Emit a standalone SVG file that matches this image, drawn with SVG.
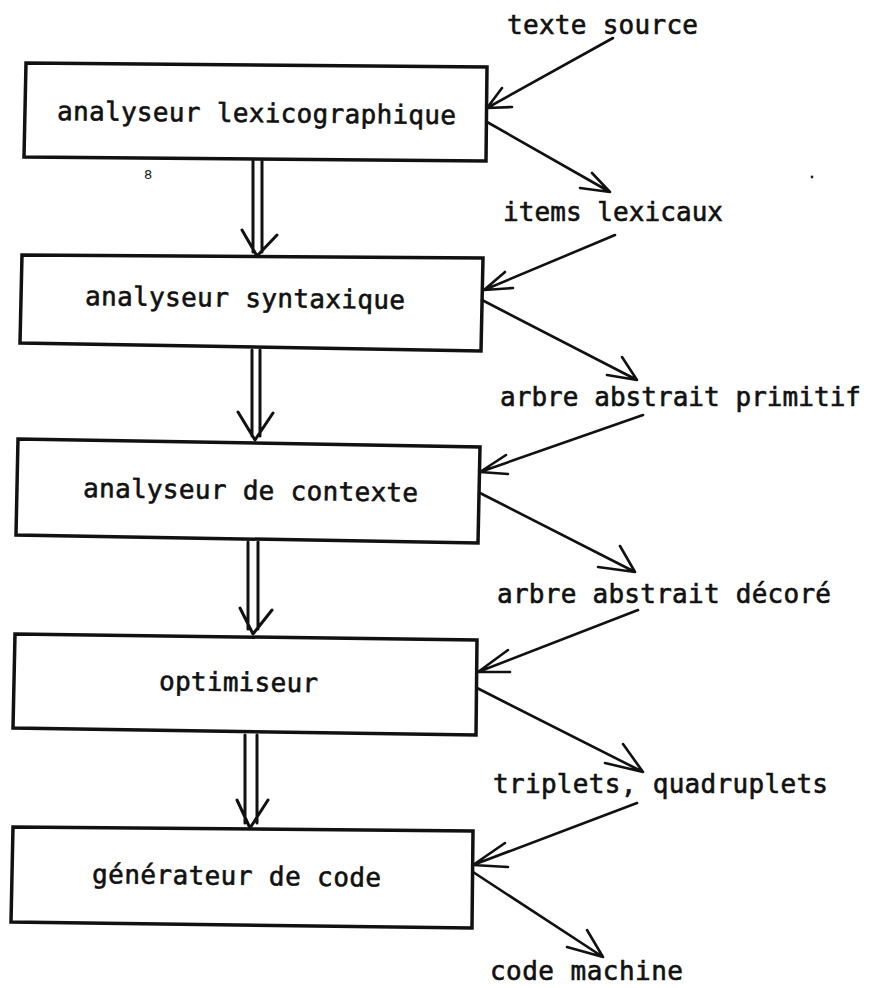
<svg xmlns="http://www.w3.org/2000/svg" width="883" height="988" viewBox="0 0 883 988">
  <style>
    .box { fill: #ffffff; stroke: #111; stroke-width: 3.5; stroke-linejoin: miter; }
    .lbl { font-family: "DejaVu Sans Mono", "Liberation Mono", monospace; font-size: 26px; fill: #111; stroke: #111; stroke-width: 0.6; }
    .ln { fill: none; stroke: #111; stroke-width: 2.6; stroke-linecap: round; stroke-linejoin: round; }
    .dbl { fill: none; stroke: #111; stroke-width: 3; stroke-linecap: round; stroke-linejoin: round; }
  </style>
  <rect width="883" height="988" fill="#ffffff"/>

  <!-- compiler phases -->
  <g id="lexer">
    <path class="box" d="M26,63 L487,67 L486,161 L24,157 Z"/>
    <text class="lbl" x="57" y="120" textLength="399" lengthAdjust="spacing" transform="rotate(0.6 57 120)">analyseur lexicographique</text>
  </g>
  <g id="parser">
    <path class="box" d="M22,255 L483,258 L481,351 L20,343 Z"/>
    <text class="lbl" x="85" y="305" textLength="320" lengthAdjust="spacing" transform="rotate(0.7 85 305)">analyseur syntaxique</text>
  </g>
  <g id="context">
    <path class="box" d="M18,439 L480,447 L478,543 L16,535 Z"/>
    <text class="lbl" x="83" y="497" textLength="335" lengthAdjust="spacing" transform="rotate(0.8 83 497)">analyseur de contexte</text>
  </g>
  <g id="optimizer">
    <path class="box" d="M15,634 L477,640 L476,735 L13,728 Z"/>
    <text class="lbl" x="159" y="690" textLength="159" lengthAdjust="spacing" transform="rotate(0.8 159 690)">optimiseur</text>
  </g>
  <g id="codegen">
    <path class="box" d="M13,827 L473,831 L472,928 L11,922 Z"/>
    <text class="lbl" x="92" y="883" textLength="289" lengthAdjust="spacing" transform="rotate(0.7 92 883)">générateur de code</text>
  </g>

  <!-- intermediate representations -->
  <g id="src">
    <text class="lbl" x="507" y="34" textLength="191" lengthAdjust="spacing">texte source</text>
  </g>
  <g id="tokens">
    <text class="lbl" x="503" y="221" textLength="220" lengthAdjust="spacing">items lexicaux</text>
  </g>
  <g id="ast">
    <text class="lbl" x="500" y="406" textLength="361" lengthAdjust="spacing">arbre abstrait primitif</text>
  </g>
  <g id="dast">
    <text class="lbl" x="497" y="603" textLength="334" lengthAdjust="spacing">arbre abstrait décoré</text>
  </g>
  <g id="tac">
    <text class="lbl" x="493" y="793" textLength="335" lengthAdjust="spacing">triplets, quadruplets</text>
  </g>
  <g id="mc">
    <text class="lbl" x="490" y="980" textLength="193" lengthAdjust="spacing">code machine</text>
  </g>

  <!-- stray marks -->
  <text x="144" y="179" font-family="DejaVu Sans" font-size="13" fill="#222">8</text>
  <circle cx="812" cy="177" r="1.4" fill="#222"/>

  <g id="connectors">
    <!-- phase to phase: double-line arrows -->
    <path class="dbl" d="M253,161 L253,252 M262,161 L262,252 M242,230 L257,256 L277,235"/>
    <path class="dbl" d="M252,350 L252,436 M260,350 L260,436 M238,412 L255,440 L273,413"/>
    <path class="dbl" d="M248,542 L248,629 M258,542 L258,629 M240,608 L253,634 L272,610"/>
    <path class="dbl" d="M245,735 L245,823 M257,735 L257,823 M237,800 L250,828 L268,800"/>

    <!-- input representations into each phase -->
    <path class="ln" d="M613,38 L487,108 M502,88 L487,108 L512,107"/>
    <path class="ln" d="M615,235 L484,290 M505,272 L484,290 L513,288"/>
    <path class="ln" d="M643,415 L480,472 M506,455 L480,472 L508,474"/>
    <path class="ln" d="M638,610 L478,672 M508,650 L478,672 L510,672"/>
    <path class="ln" d="M637,803 L473,865 M505,843 L473,865 L508,867"/>

    <!-- output representations from each phase -->
    <path class="ln" d="M487,122 L610,192 M580,188 L610,192 L592,173"/>
    <path class="ln" d="M482,300 L637,380 M607,375 L637,380 L622,357"/>
    <path class="ln" d="M480,493 L635,572 M598,567 L635,572 L620,546"/>
    <path class="ln" d="M477,688 L643,772 M605,763 L643,772 L623,744"/>
    <path class="ln" d="M473,872 L603,957 M567,947 L603,957 L587,930"/>
  </g>
</svg>
